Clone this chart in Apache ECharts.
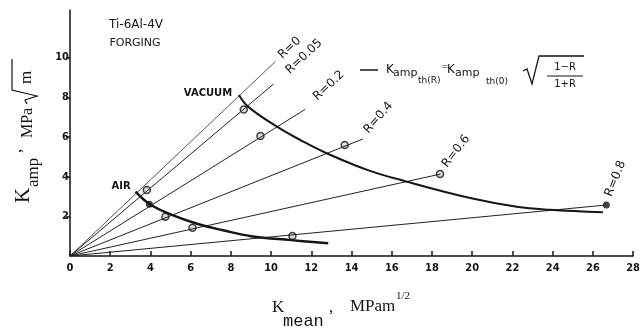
<!DOCTYPE html>
<html>
<head>
<meta charset="utf-8">
<script src="https://cdn.jsdelivr.net/npm/echarts@6/dist/echarts.min.js"></script>
<style>
html, body { margin: 0; padding: 0; background: #fff; }
#chart { width: 643px; height: 333px; }
</style>
</head>
<body>
<div id="chart"></div>
<script>
// R lines: straight from the origin to their end points
var rNames = ['R=0', 'R=0.05', 'R=0.2', 'R=0.4', 'R=0.6', 'R=0.8'];
var rEndX = [10.2, 10.12, 11.69, 14.57, 18.42, 26.67];
var rEndY = [9.79, 8.67, 7.39, 5.90, 4.13, 2.57];

// threshold curves
var vacuumX = [8.4, 8.85, 10.29, 11.5, 12.76, 14.81, 16.63, 19.9, 22.22, 23.85, 26.5];
var vacuumY = [8.11, 7.53, 6.52, 5.82, 5.18, 4.33, 3.78, 2.92, 2.48, 2.33, 2.2];
var airX = [3.26, 3.95, 5.0, 6.4, 7.6, 9.0, 11.0, 12.84];
var airY = [3.24, 2.62, 2.1, 1.6, 1.3, 1.0, 0.8, 0.64];

// measured points
var vacOpenX = [8.64, 9.47, 13.66, 18.4];
var vacOpenY = [7.39, 6.05, 5.59, 4.13];
var vacFillX = [26.67];
var vacFillY = [2.57];
var airOpenX = [3.82, 4.74, 6.09, 11.06];
var airOpenY = [3.33, 1.98, 1.43, 1.01];
var airFillX = [3.95];
var airFillY = [2.61];

var yTicks = [2, 4, 6, 8, 10];

function pairs(xs, ys) {
    return xs.map(function (x, i) { return [x, ys[i]]; });
}

var ink = '#151515';
var sans = 'DejaVu Sans';
var serif = 'Liberation Serif';

var chartDom = document.getElementById('chart');
var myChart = echarts.init(chartDom);
var option;

var series = [];
rNames.forEach(function (name, i) {
    series.push({
        name: name,
        type: 'line',
        data: [[0, 0], [rEndX[i], rEndY[i]]],
        showSymbol: false,
        silent: true,
        lineStyle: { color: i === 0 ? '#555' : '#222', width: 1 }
    });
});
series.push({
    name: 'VACUUM',
    type: 'line',
    data: pairs(vacuumX, vacuumY),
    smooth: 0.4,
    showSymbol: false,
    silent: true,
    lineStyle: { color: ink, width: 2 }
});
series.push({
    name: 'AIR',
    type: 'line',
    data: pairs(airX, airY),
    smooth: 0.4,
    showSymbol: false,
    silent: true,
    lineStyle: { color: ink, width: 2.5 }
});
series.push({
    type: 'scatter',
    data: pairs(vacOpenX, vacOpenY).concat(pairs(airOpenX, airOpenY)),
    symbolSize: 7,
    silent: true,
    itemStyle: { color: '#cfcfcf', borderColor: ink, borderWidth: 1.5 }
});
series.push({
    type: 'scatter',
    data: pairs(vacFillX, vacFillY).concat(pairs(airFillX, airFillY)),
    symbolSize: 7,
    silent: true,
    itemStyle: { color: ink }
});

option = {
    animation: false,
    backgroundColor: '#fff',
    grid: { left: 70, right: 6, top: 10, bottom: 77 },
    xAxis: {
        type: 'value',
        min: 0,
        max: 28,
        interval: 2,
        splitLine: { show: false },
        axisLine: { lineStyle: { color: ink, width: 1.5 } },
        axisTick: { inside: true, length: 5, lineStyle: { color: ink, width: 1.5 } },
        axisLabel: {
            margin: 7,
            color: ink,
            fontFamily: 'DejaVu Sans Condensed, DejaVu Sans',
            fontWeight: 'bold',
            fontSize: 11,
            showMinLabel: true,
            showMaxLabel: true
        }
    },
    yAxis: {
        type: 'value',
        min: 0,
        max: 12.4,
        interval: 2,
        splitLine: { show: false },
        axisLine: { onZero: false, lineStyle: { color: ink, width: 1.5 } },
        axisTick: { length: 4, customValues: yTicks, lineStyle: { color: ink, width: 1.5 } },
        axisLabel: {
            customValues: yTicks,
            margin: 1,
            color: ink,
            fontFamily: 'DejaVu Sans Condensed, DejaVu Sans',
            fontWeight: 'bold',
            fontSize: 11
        }
    },
    series: series
};

myChart.setOption(option);

// labels along the R lines, placed from their end points
var rLabelShift = [[5, -5], [14, -12], [10, -11], [3, -7], [4, -8], [2, -9]];
var rLabelTurn = [43, 43, 43, 49, 52, 68];
var graphics = [];
rNames.forEach(function (name, i) {
    var p = myChart.convertToPixel({ seriesIndex: 0 }, [rEndX[i], rEndY[i]]);
    graphics.push({
        type: 'text',
        x: p[0] + rLabelShift[i][0],
        y: p[1] + rLabelShift[i][1],
        rotation: rLabelTurn[i] * Math.PI / 180,
        style: { text: name, font: '12px ' + sans, fill: ink, align: 'left', verticalAlign: 'middle' }
    });
});

function txt(text, x, y, font, align) {
    return {
        type: 'text', x: x, y: y,
        style: { text: text, font: font, fill: ink, align: align || 'left', verticalAlign: 'middle' }
    };
}

graphics.push(txt('Ti-6Al-4V', 136, 25, '12px ' + sans, 'center'));
graphics.push(txt('FORGING', 135, 43, '11px ' + sans, 'center'));
graphics.push(txt('VACUUM', 208, 93, 'bold 10px ' + sans, 'center'));
graphics.push(txt('AIR', 121, 186, 'bold 10px ' + sans, 'center'));

// formula  K_amp th(R) = K_amp th(0) sqrt((1-R)/(1+R))
graphics.push({ type: 'line', shape: { x1: 360, y1: 70, x2: 378, y2: 70 }, style: { stroke: ink, lineWidth: 1.5 } });
graphics.push(txt('K', 386, 70, '12px ' + sans));
graphics.push(txt('amp', 393, 73, '11px ' + sans));
graphics.push(txt('th(R)', 418, 81, '9px ' + sans));
graphics.push(txt('=', 441, 67, '9px ' + sans));
graphics.push(txt('K', 447, 70, '12px ' + sans));
graphics.push(txt('amp', 455, 73, '11px ' + sans));
graphics.push(txt('th(0)', 486, 82, '9px ' + sans));
graphics.push({ type: 'polyline', shape: { points: [[523, 71], [527, 69], [532, 84], [539, 56], [584, 56]] }, style: { stroke: ink, lineWidth: 1.3, fill: null } });
graphics.push(txt('1\u2212R', 565, 67, '10px ' + sans, 'center'));
graphics.push({ type: 'line', shape: { x1: 547, y1: 76, x2: 583, y2: 76 }, style: { stroke: ink, lineWidth: 1.2 } });
graphics.push(txt('1+R', 565, 84, '10px ' + sans, 'center'));

// x axis name
graphics.push(txt('K', 272, 308, '17px ' + serif));
graphics.push(txt('mean', 283, 321, '17px Liberation Mono'));
graphics.push(txt(',', 329, 308, '17px ' + serif));
graphics.push(txt('MPam', 350, 307, '17px ' + serif));
graphics.push(txt('1/2', 396, 296, '11px ' + serif));

// y axis name, rotated to read upwards
graphics.push({
    type: 'group',
    x: 0,
    y: 205,
    rotation: Math.PI / 2,
    children: [
        txt('K', 2, 23, '21px ' + serif),
        txt('amp', 18, 34, '17px ' + serif),
        txt(',', 52, 17, '17px ' + serif),
        txt('MPa', 67, 28, '16px ' + serif),
        { type: 'polyline', shape: { points: [[101, 27], [105, 25], [109, 37], [115, 12], [146, 12]] }, style: { stroke: ink, lineWidth: 1.2, fill: null } },
        txt('m', 121, 27, '17px ' + serif)
    ]
});

myChart.setOption({ graphic: graphics });

window.addEventListener('resize', myChart.resize);
</script>
</body>
</html>
